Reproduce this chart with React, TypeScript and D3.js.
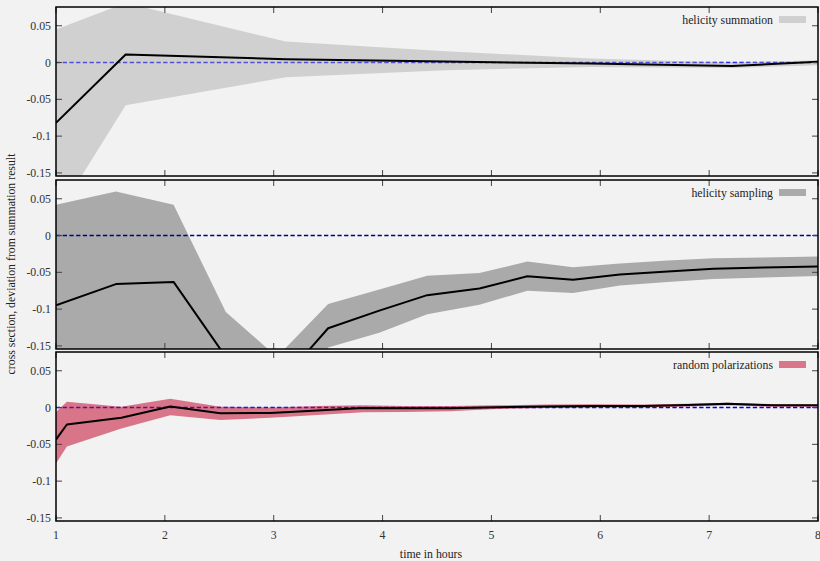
import React from "react";
import * as d3 from "d3";

// ---- data ----
const sumX = [1, 1.64, 3.11, 4.58, 5.91, 7.21, 8];
const sumMean = [-0.082, 0.011, 0.0045, 0.0013, -0.0014, -0.0046, 0.001];
const sumUpper = [0.045, 0.081, 0.0285, 0.0155, 0.0055, 0.0, 0.003];
const sumLower = [-0.21, -0.058, -0.02, -0.0105, -0.006, -0.0075, -0.0037];

const sampX = [1, 1.55, 2.08, 2.56, 3.03, 3.5, 3.97, 4.41, 4.89, 5.33, 5.75, 6.18, 6.62, 7.04, 7.5, 8];
const sampMean = [-0.0947, -0.066, -0.063, -0.165, -0.205, -0.126, -0.102, -0.081, -0.072, -0.0553, -0.06, -0.053, -0.049, -0.045, -0.0435, -0.042];
const sampUpper = [0.0417, 0.06, 0.042, -0.104, -0.165, -0.093, -0.0734, -0.0548, -0.051, -0.0354, -0.043, -0.038, -0.034, -0.031, -0.03, -0.0285];
const sampLower = [-0.23, -0.2, -0.19, -0.23, -0.25, -0.152, -0.132, -0.107, -0.094, -0.075, -0.078, -0.068, -0.063, -0.059, -0.057, -0.055];

const randX = [1, 1.1, 1.6, 2.05, 2.51, 2.97, 3.4, 3.82, 4.21, 4.62, 5.05, 5.5, 5.95, 6.4, 6.8, 7.17, 7.6, 8];
const randMean = [-0.0435, -0.023, -0.014, 0.0014, -0.0078, -0.0073, -0.004, -0.0005, -0.001, -0.001, 0.0005, 0.0015, 0.002, 0.002, 0.0035, 0.005, 0.003, 0.003];
const randUpper = [-0.006, 0.008, 0.001, 0.012, 0.001, 0.0, 0.002, 0.003, 0.002, 0.002, 0.003, 0.004, 0.0045, 0.004, 0.005, 0.0065, 0.0045, 0.004];
const randLower = [-0.076, -0.053, -0.0285, -0.0105, -0.017, -0.014, -0.01, -0.0064, -0.006, -0.005, -0.002, -0.0005, 0.0, 0.0, 0.0015, 0.003, 0.001, 0.001];

const xTicks = [1, 2, 3, 4, 5, 6, 7, 8];
const yTicks = [0.05, 0, -0.05, -0.1, -0.15];
const yTickLabels = ["0.05", "0", "-0.05", "-0.1", "-0.15"];

const panels = [
  {
    name: "helicity summation", xs: sumX, mean: sumMean, up: sumUpper, lo: sumLower,
    fill: "#aaaaaa", opacity: 0.47, swatch: "#d0d0d0", dash: "#0000ff", dashOnTop: false,
  },
  {
    name: "helicity sampling", xs: sampX, mean: sampMean, up: sampUpper, lo: sampLower,
    fill: "#aaaaaa", opacity: 1, swatch: "#aaaaaa", dash: "#00008f", dashOnTop: true,
  },
  {
    name: "random polarizations", xs: randX, mean: randMean, up: randUpper, lo: randLower,
    fill: "rgb(196,20,55)", opacity: 0.56, swatch: "#d9768a", dash: "#0000ee", dashOnTop: false,
  },
];

const W = 820;
const H = 561;
const left = 56;
const right = 818;
const tops = [7, 180, 352];
const ph = 169;
const font = "'Liberation Serif', 'Times New Roman', serif";
const fs = 11.8;

export default function App() {
  const x = d3.scaleLinear().domain([1, 8]).range([left, right]);
  return (
    <svg width={W} height={H} style={{ position: "absolute", left: 0, top: 0 }} fontFamily={font}>
      <rect x={0} y={0} width={W} height={H} fill="#f2f2f2" />
      {panels.map((p, i) => {
        const top = tops[i];
        const y = d3.scaleLinear().domain([-0.1542, 0.0755]).range([top + ph, top]);
        const idx = p.xs.map((_, k) => k);
        const area = d3.area<number>().x((k) => x(p.xs[k])).y0((k) => y(p.lo[k])).y1((k) => y(p.up[k]));
        const line = d3.line<number>().x((k) => x(p.xs[k])).y((k) => y(p.mean[k]));
        const dashLine = (
          <line x1={left} x2={right} y1={y(0)} y2={y(0)} stroke={p.dash} strokeWidth={1.6} strokeDasharray="4.3,2.4" />
        );
        return (
          <g key={p.name}>
            <defs>
              <clipPath id={`clip${i}`}>
                <rect x={left} y={top} width={right - left} height={ph} />
              </clipPath>
            </defs>
            <g clipPath={`url(#clip${i})`}>
              {!p.dashOnTop && dashLine}
              <path d={area(idx) || ""} fill={p.fill} fillOpacity={p.opacity} />
              {p.dashOnTop && dashLine}
              <path d={line(idx) || ""} fill="none" stroke="#000" strokeWidth={2} strokeLinejoin="round" />
            </g>
            {xTicks.map((t) => (
              <g key={`xt${t}`} stroke="#444" strokeWidth={1}>
                <line x1={x(t)} x2={x(t)} y1={top} y2={top + 6} />
                <line x1={x(t)} x2={x(t)} y1={top + ph} y2={top + ph - 6} />
              </g>
            ))}
            {yTicks.map((t, k) => (
              <g key={`yt${k}`}>
                <line x1={left} x2={left + 6} y1={y(t)} y2={y(t)} stroke="#444" />
                <line x1={right} x2={right - 6} y1={y(t)} y2={y(t)} stroke="#444" />
                <text x={51} y={y(t)} dy="0.35em" textAnchor="end" fontSize={fs} fill="#333">
                  {yTickLabels[k]}
                </text>
              </g>
            ))}
            <rect x={left} y={top} width={right - left} height={ph} fill="none" stroke="#000" strokeWidth={1.5} />
            <text x={773} y={top + 17} textAnchor="end" fontSize={fs} fill="#222">
              {p.name}
            </text>
            <rect x={779} y={top + 9} width={27} height={7} fill={p.swatch} />
          </g>
        );
      })}
      {xTicks.map((t) => (
        <text key={`xl${t}`} x={x(t)} y={539} textAnchor="middle" fontSize={fs} fill="#333">
          {t}
        </text>
      ))}
      <text x={431} y={558} textAnchor="middle" fontSize={fs} fill="#222">
        time in hours
      </text>
      <text transform={`translate(15,264) rotate(-90)`} textAnchor="middle" fontSize={fs} fill="#222">
        cross section, deviation from summation result
      </text>
    </svg>
  );
}
